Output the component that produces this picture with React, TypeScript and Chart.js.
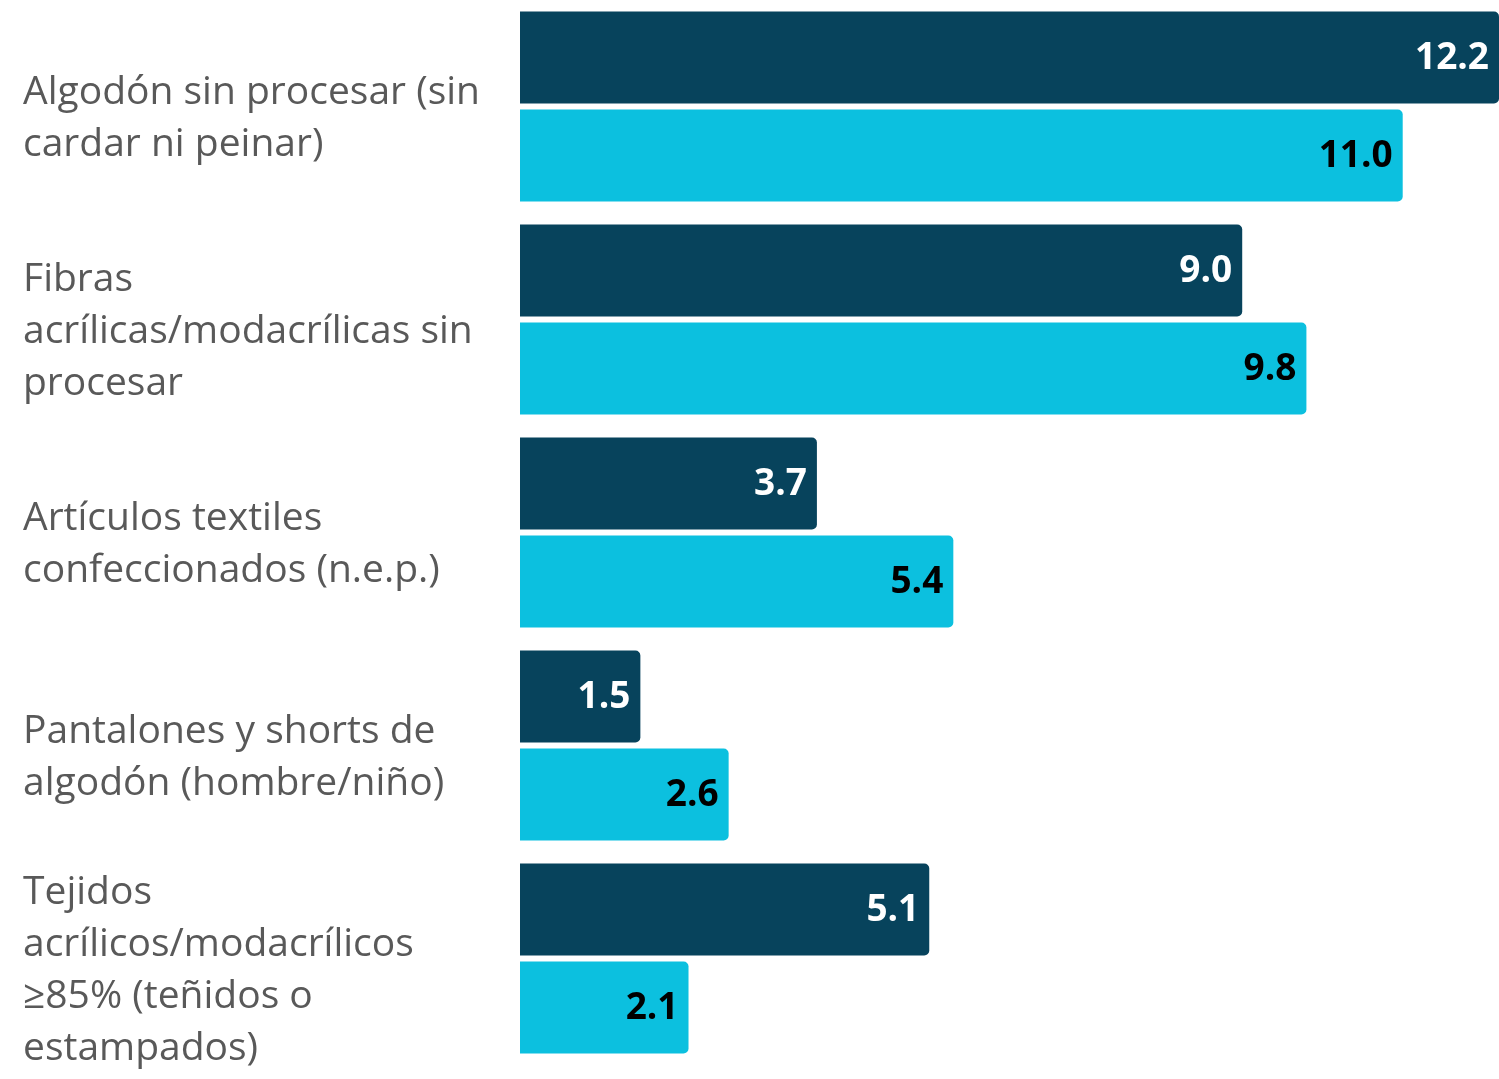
import React, { useEffect, useRef } from "react";
import { Chart, registerables } from "chart.js";

Chart.register(...registerables);

const categories: string[][] = [
  ["Algodón sin procesar (sin", "cardar ni peinar)"],
  ["Fibras", "acrílicas/modacrílicas sin", "procesar"],
  ["Artículos textiles", "confeccionados (n.e.p.)"],
  ["Pantalones y shorts de", "algodón (hombre/niño)"],
  ["Tejidos", "acrílicos/modacrílicos", "≥85% (teñidos o", "estampados)"],
];
const seriesA: number[] = [12.2, 9.0, 3.7, 1.5, 5.1];
const seriesB: number[] = [11.0, 9.8, 5.4, 2.6, 2.1];
const seriesNames = ["Serie 1", "Serie 2"];

const DARK = "#07435c";
const CYAN = "#0cc0df";
const FONT = "'Open Sans', sans-serif";

const valueLabels = {
  id: "valueLabels",
  afterDatasetsDraw(chart: any) {
    const ctx = chart.ctx;
    ctx.save();
    ctx.font = `bold 37px ${FONT}`;
    ctx.textAlign = "right";
    ctx.textBaseline = "middle";
    chart.data.datasets.forEach((ds: any, di: number) => {
      const meta = chart.getDatasetMeta(di);
      meta.data.forEach((bar: any, i: number) => {
        const v = ds.data[i] as number;
        ctx.fillStyle = di === 0 ? "#ffffff" : "#000000";
        ctx.fillText(v.toFixed(1), bar.x - 10, bar.y + 1);
      });
    });
    ctx.restore();
  },
};

export default function App() {
  const ref = useRef<HTMLCanvasElement>(null);
  useEffect(() => {
    if (!ref.current) return;
    const chart = new Chart(ref.current, {
      type: "bar",
      data: {
        labels: categories,
        datasets: [
          {
            label: seriesNames[0],
            data: seriesA,
            backgroundColor: DARK,
            borderRadius: 5,
            borderSkipped: "start",
          },
          {
            label: seriesNames[1],
            data: seriesB,
            backgroundColor: CYAN,
            borderRadius: 5,
            borderSkipped: "start",
          },
        ],
      },
      options: {
        indexAxis: "y",
        animation: false,
        responsive: false,
        maintainAspectRatio: false,
        layout: { padding: { left: 23, top: 0, right: 0, bottom: 14 } },
        datasets: { bar: { categoryPercentage: 0.92, barPercentage: 0.94 } },
        plugins: { legend: { display: false }, tooltip: { enabled: false } },
        scales: {
          x: { display: false, min: 0, max: 12.2 },
          y: {
            grid: { display: false },
            border: { display: false },
            afterFit: (scale: any) => {
              scale.width = 497;
              scale.paddingTop = 0;
              scale.paddingBottom = 0;
            },
            ticks: {
              crossAlign: "far",
              labelOffset: 12,
              color: "#595959",
              font: { family: FONT, size: 39, lineHeight: 1.335 },
            },
          },
        },
      },
      plugins: [valueLabels],
    });
    return () => chart.destroy();
  }, []);
  return (
    <div style={{ position: "fixed", left: 0, top: 0, width: 1499, height: 1079, background: "#fff" }}>
      <canvas ref={ref} width={1499} height={1079} style={{ width: 1499, height: 1079 }} />
    </div>
  );
}
